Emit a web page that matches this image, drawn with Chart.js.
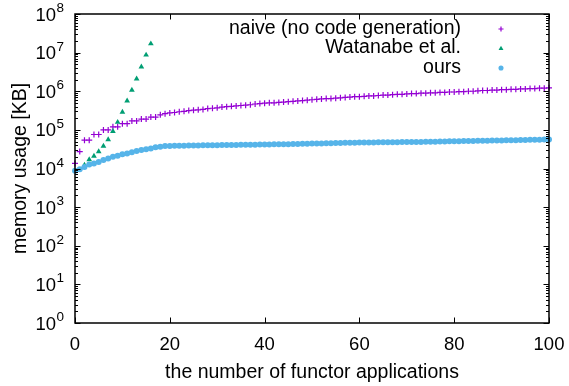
<!DOCTYPE html>
<html>
<head>
<meta charset="utf-8">
<script src="https://cdn.jsdelivr.net/npm/chart.js@4.4.1/dist/chart.umd.min.js"></script>
<style>
html, body { margin: 0; padding: 0; background: #fff; }
</style>
</head>
<body>
<canvas id="memory-chart" width="569" height="386"></canvas>
<script>
// number of functor applications
const steps = Array.from({ length: 101 }, (_, i) => i);

// memory usage in KB
const naiveValues = [
    13500, 27500, 54000, 54000, 76000, 76000, 100000, 100000, 120000, 120000,
    145000, 145000, 170000, 170000, 190000, 190000, 214000, 214000, 245000, 263000,
    275000, 282000, 295000, 302000, 316000, 324000, 331000, 339000, 355000, 363000,
    372000, 389000, 398000, 407000, 417000, 427000, 437000, 447000, 468000, 479000,
    490000, 501000, 501000, 513000, 525000, 537000, 550000, 562000, 575000, 589000,
    603000, 617000, 631000, 646000, 646000, 661000, 676000, 692000, 708000, 724000,
    724000, 741000, 759000, 759000, 776000, 794000, 794000, 813000, 832000, 832000,
    851000, 871000, 871000, 891000, 891000, 912000, 912000, 933000, 933000, 955000,
    955000, 977000, 977000, 1000000, 1000000, 1023000, 1047000, 1047000, 1072000, 1072000,
    1096000, 1096000, 1122000, 1122000, 1148000, 1148000, 1175000, 1175000, 1202000, 1202000,
    1230000
];
const watanabeSteps = [2, 3, 4, 5, 6, 7, 8, 9, 10, 11, 12, 13, 14, 15, 16];
const watanabeValues = [
    12300, 17000, 20900, 27500, 38000, 56200, 91200, 158000, 288000, 562000,
    1070000, 2090000, 4270000, 8710000, 17000000
];
const oursValues = [
    8700, 9550, 11000, 12600, 13500, 14800, 16600, 18200, 20000, 21400,
    23400, 24500, 26300, 28200, 30200, 31600, 33100, 35500, 36300, 38000,
    38500, 38700, 38800, 39000, 39200, 39300, 39500, 39700, 39800, 40000,
    40200, 40300, 40500, 40700, 40800, 41000, 41200, 41300, 41500, 41700,
    41800, 42000, 42200, 42300, 42500, 42700, 43000, 43200, 43500, 43800,
    44100, 44400, 44700, 45000, 45200, 45500, 45800, 46100, 46400, 46700,
    46900, 47100, 47200, 47400, 47500, 47700, 47800, 48000, 48100, 48300,
    48400, 48600, 48700, 48900, 49000, 49300, 49500, 49800, 50100, 50400,
    50600, 50900, 51200, 51400, 51700, 52000, 52300, 52500, 52800, 53100,
    53400, 53700, 54000, 54200, 54500, 54800, 55100, 55400, 55700, 56000,
    56200
];

const seriesNames = ["naive (no code generation)", "Watanabe et al.", "ours"];
const xTicks = [0, 20, 40, 60, 80, 100];
const yTicks = [1, 10, 100, 1000, 10000, 100000, 1000000, 10000000, 100000000];
const yExponents = ["0", "1", "2", "3", "4", "5", "6", "7", "8"];

const FONT = '"Liberation Sans", Arial, Helvetica, sans-serif';

function points(xs, ys) {
    return xs.map((x, i) => ({ x: x, y: ys[i] }));
}

// gnuplot style frame: inward ticks on all sides and 10^n labels
const framePlugin = {
    id: 'frame',
    afterDraw(chart) {
        const { ctx, chartArea: a, scales: { x, y } } = chart;
        ctx.save();
        ctx.strokeStyle = '#000';
        ctx.lineWidth = 1;
        ctx.beginPath();
        xTicks.forEach(v => {
            const px = Math.round(x.getPixelForValue(v)) + 0.5;
            ctx.moveTo(px, a.bottom); ctx.lineTo(px, a.bottom - 5.5);
            ctx.moveTo(px, a.top); ctx.lineTo(px, a.top + 5.5);
        });
        yTicks.forEach((v, i) => {
            for (let m = 1; m < 10; m++) {
                if (i === yTicks.length - 1 && m > 1) break;
                const py = Math.round(y.getPixelForValue(v * m)) + 0.5;
                const len = m === 1 ? 5.5 : 3;
                ctx.moveTo(a.left, py); ctx.lineTo(a.left + len, py);
                ctx.moveTo(a.right, py); ctx.lineTo(a.right - len, py);
            }
        });
        ctx.stroke();
        ctx.lineWidth = 1.5;
        ctx.strokeRect(a.left, a.top, a.right - a.left, a.bottom - a.top);

        ctx.fillStyle = '#000';
        ctx.textBaseline = 'alphabetic';
        yTicks.forEach((v, i) => {
            const py = y.getPixelForValue(v);
            ctx.font = '13.5px ' + FONT;
            const w = ctx.measureText(yExponents[i]).width;
            ctx.textAlign = 'left';
            ctx.fillText(yExponents[i], 64 - w, py - 2);
            ctx.font = '18.5px ' + FONT;
            ctx.textAlign = 'right';
            ctx.fillText('10', 64 - w - 0.5, py + 6.6);
        });
        ctx.restore();
    }
};

// key in the top right corner, text right aligned, sample on the right
const keyPlugin = {
    id: 'key',
    afterDraw(chart) {
        const ctx = chart.ctx;
        ctx.save();
        chart.data.datasets.forEach((ds, i) => {
            const yy = 28.5 + i * 19.5;
            ctx.font = '19.5px ' + FONT;
            ctx.textAlign = 'right';
            ctx.textBaseline = 'middle';
            ctx.fillStyle = '#000';
            ctx.fillText(ds.label, 461, yy);
            ctx.fillStyle = ds.pointBackgroundColor;
            ctx.strokeStyle = ds.pointBorderColor;
            ctx.lineWidth = ds.pointBorderWidth;
            Chart.helpers.drawPoint(ctx, {
                pointStyle: ds.pointStyle,
                radius: ds.pointRadius * 0.85,
                rotation: 0,
                borderWidth: ds.pointBorderWidth
            }, 501, yy + 0.5);
        });
        ctx.restore();
    }
};

new Chart(document.getElementById("memory-chart"), {
    type: 'scatter',
    data: {
        datasets: [{
            label: seriesNames[0],
            data: points(steps, naiveValues),
            pointStyle: 'cross',
            pointRadius: 3,
            pointBorderWidth: 1.2,
            pointBorderColor: '#9400d3',
            pointBackgroundColor: '#9400d3',
            order: 2,
            clip: false
        }, {
            label: seriesNames[1],
            data: points(watanabeSteps, watanabeValues),
            pointStyle: 'triangle',
            pointRadius: 3.3,
            pointBorderWidth: 0,
            pointBorderColor: '#009e73',
            pointBackgroundColor: '#009e73',
            order: 1,
            clip: false
        }, {
            label: seriesNames[2],
            data: points(steps, oursValues),
            pointStyle: 'circle',
            pointRadius: 3,
            pointBorderWidth: 0,
            pointBorderColor: '#56b4e9',
            pointBackgroundColor: '#56b4e9',
            order: 0,
            clip: false
        }]
    },
    options: {
        responsive: false,
        animation: false,
        devicePixelRatio: 1,
        layout: { padding: { left: 0, top: 14, right: 20, bottom: 0 } },
        plugins: {
            legend: { display: false },
            tooltip: { enabled: false }
        },
        scales: {
            x: {
                type: 'linear',
                min: 0,
                max: 100,
                afterBuildTicks: s => { s.ticks = xTicks.map(v => ({ value: v })); },
                afterFit: s => { s.height = 63; s.paddingLeft = 0; s.paddingRight = 0; },
                grid: { display: false, drawTicks: false },
                border: { display: false },
                ticks: {
                    padding: 10.5,
                    color: '#000',
                    maxRotation: 0,
                    autoSkip: false,
                    font: { family: FONT, size: 18.5, lineHeight: 1.2 }
                },
                title: {
                    display: true,
                    text: 'the number of functor applications',
                    color: '#000',
                    padding: { top: 0, bottom: 2 },
                    font: { family: FONT, size: 19.5, lineHeight: 1.2 }
                }
            },
            y: {
                type: 'logarithmic',
                min: 1,
                max: 100000000,
                afterFit: s => { s.width = 75; s.paddingTop = 0; s.paddingBottom = 0; },
                grid: { display: false, drawTicks: false },
                border: { display: false },
                ticks: { display: false },
                title: {
                    display: true,
                    text: 'memory usage [KB]',
                    color: '#000',
                    padding: { top: 9, bottom: 0 },
                    font: { family: FONT, size: 19.5, lineHeight: 1.2 }
                }
            }
        }
    },
    plugins: [framePlugin, keyPlugin]
});
</script>
</body>
</html>
